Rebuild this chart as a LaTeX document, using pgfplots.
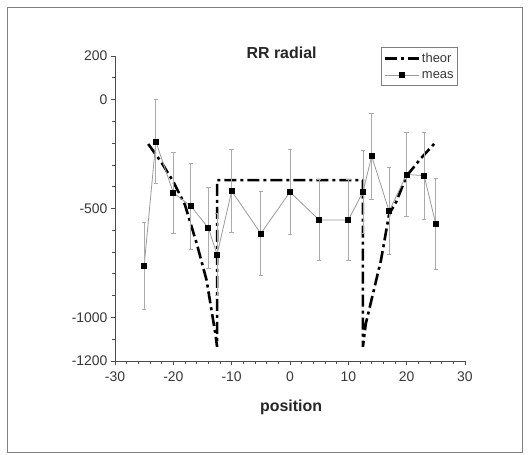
\documentclass[border=0pt]{standalone}
\usepackage{pgfplots}
\pgfplotsset{compat=1.18}
\usepackage{pgfplotstable}
\usepackage{fontspec}
\setmainfont{Liberation Sans}

\definecolor{axisgray}{HTML}{4D4D4D}
\definecolor{labgray}{HTML}{383838}
\definecolor{measline}{HTML}{9A9A9A}
\definecolor{errgray}{HTML}{ABABAB}
\definecolor{framegray}{HTML}{808080}

% theoretical radial RR profile
\pgfplotstableread{
x      y
-24.3  -204
-22.0  -290
-20.0  -377
-18.0  -484
-16.0  -660
-14.3  -829
-12.8  -1074
-12.5  -1135
-12.5  -370
12.5   -370
12.5   -1135
13.0   -1028
14.1   -905
15.6   -737
17.0   -525
18.2   -470
20.0   -350
22.5   -268
25.1   -192
}\theor

% measured values with their uncertainties
\pgfplotstableread{
x      y      e
-25    -763   199
-23    -193   192
-20    -428   187
-17    -489   197
-14    -589   187
-12.5  -711   190
-10    -420   190
-5     -615   193
0      -424   195
5      -553   185
10     -553   185
12.5   -424   190
14     -260   198
17     -512   199
20     -344   194
23     -349   200
25     -572   208
}\meas

\begin{document}
\begin{tikzpicture}
\useasboundingbox (0,0) rectangle (531bp,455bp);
\draw[framegray, line width=0.8bp] (7bp,3bp) rectangle (522bp,448bp);
\begin{axis}[
  at={(115bp,94bp)}, anchor=south west,
  scale only axis, width=350bp, height=305bp,
  xmin=-30, xmax=30, ymin=-1200, ymax=200,
  axis x line*=bottom, axis y line*=left,
  axis line style={axisgray, line width=0.9bp, -},
  xtick={-30,-20,...,30}, minor xtick={-28,-26,...,28},
  ytick={-1200,-1000,-500,0,200},
  minor ytick={-1100,-900,-800,-700,-600,-400,-300,-200,-100,100},
  tick align=outside,
  major tick length=4bp, minor tick length=3bp,
  tick style={axisgray, line width=0.8bp},
  ticklabel style={font=\fontsize{14}{16}\selectfont, text=labgray},
  xticklabel style={yshift=-3bp},
  /pgf/number format/assume math mode=true,
  /pgf/number format/1000 sep={},
  clip=false,
  legend image code/.code={\draw[mark repeat=2,mark phase=2,#1] plot coordinates {(0bp,0bp) (17bp,0bp) (34bp,0bp)};},
  legend style={at={(rel axis cs:0.76,1.03)}, anchor=north west,
    draw=framegray, line width=0.8bp, fill=white,
    font=\fontsize{13}{14}\selectfont, text=labgray,
    inner xsep=2bp, inner ysep=4bp, row sep=3bp,
    cells={anchor=west}, /tikz/every even column/.append style={column sep=1bp}},
]
\addplot[black, line width=2.6bp, dash pattern=on 12bp off 4bp on 3bp off 4bp]
  table[x=x, y=y] {\theor};
\addlegendentry{theor}
\addplot[measline, line width=0.8bp, mark=square*, mark size=2.5bp,
  mark options={black, solid},
  error bars/.cd, y dir=both, y explicit,
  error bar style={errgray, line width=0.8bp},
  error mark options={errgray, rotate=90, mark size=2.2bp, line width=0.8bp}]
  table[x=x, y=y, y error=e] {\meas};
\addlegendentry{meas}
\node[font=\bfseries\fontsize{16}{18}\selectfont, text=black!85]
  at (rel axis cs:0.476,1.01) {RR radial};
\node[font=\bfseries\fontsize{16}{18}\selectfont, text=black!85]
  at (rel axis cs:0.503,-0.151) {position};
\end{axis}
\end{tikzpicture}
\end{document}
